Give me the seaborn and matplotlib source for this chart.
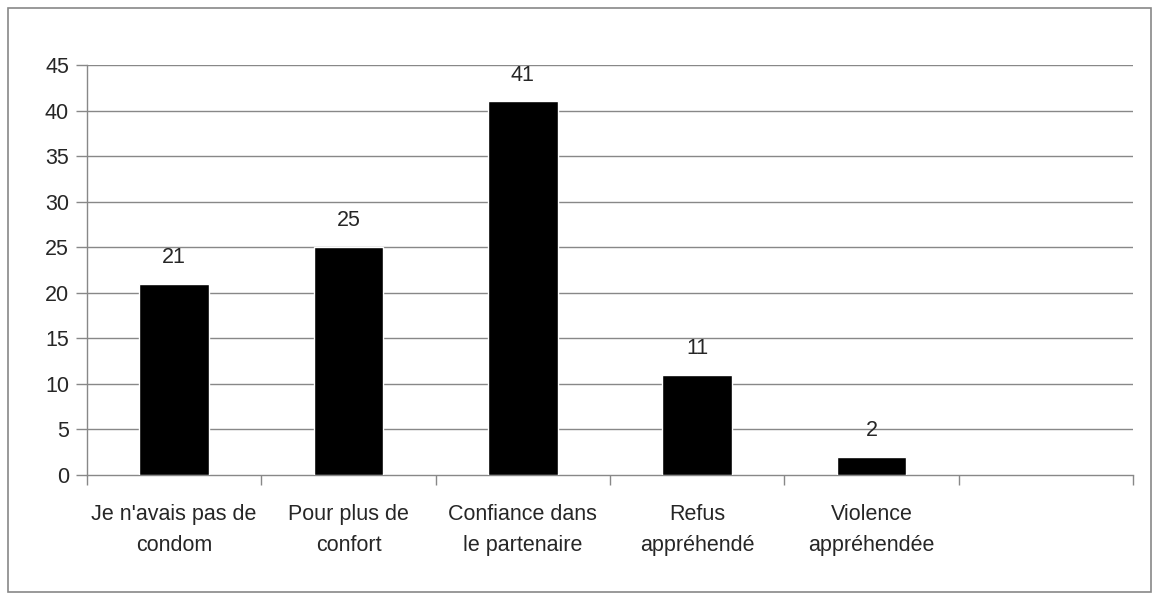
import matplotlib
matplotlib.use("Agg")
import matplotlib.pyplot as plt
import seaborn as sns
import pandas as pd
from matplotlib.patches import Rectangle

categories = ["Je n'avais pas de\ncondom", "Pour plus de\nconfort", "Confiance dans\nle partenaire",
              "Refus\nappréhendé", "Violence\nappréhendée"]
values = [21, 25, 41, 11, 2]
yticks = [0, 5, 10, 15, 20, 25, 30, 35, 40, 45]

sns.set_style("white")
plt.rcParams["font.family"] = ["Liberation Sans", "DejaVu Sans"]

df = pd.DataFrame({"cat": categories, "val": values})

fig = plt.figure(figsize=(11.6, 6), dpi=100)
ax = fig.add_axes([0.075, 0.2083, 0.9017, 0.6834])
grid_c = "#888888"
fs = 15.5

sns.barplot(data=df, x="cat", y="val", color="black", width=0.4, saturation=1, ax=ax, zorder=3)
ax.set_xlim(-0.5, 5.5)
ax.set_ylim(0, 45)
ax.set_yticks(yticks)
ax.set_xlabel("")
ax.set_ylabel("")
for y in yticks[1:]:
    ax.axhline(y, color=grid_c, lw=1, zorder=1)

for sp in ["top", "right"]:
    ax.spines[sp].set_visible(False)
for sp in ["left", "bottom"]:
    ax.spines[sp].set_color(grid_c)
    ax.spines[sp].set_linewidth(1)

ax.tick_params(axis="y", length=8, color=grid_c, width=1, labelsize=fs, pad=5, left=True)
ax.tick_params(axis="x", which="major", length=0, labelsize=fs, pad=21)
for lbl in ax.get_xticklabels():
    lbl.set_linespacing(1.62)
ax.set_xticks([i - 0.5 for i in range(7)], minor=True)
ax.tick_params(axis="x", which="minor", length=7, color=grid_c, width=1, bottom=True)

for i, v in enumerate(values):
    ax.annotate(str(v), (i, v), xytext=(0, 15), textcoords="offset points",
                ha="center", va="baseline", fontsize=fs)

fig.patches.append(Rectangle((8 / 1160, 8 / 600), 1143 / 1160, 584 / 600, transform=fig.transFigure,
                             fill=False, edgecolor=grid_c, lw=1.2))

fig.savefig("out.png", dpi=100)
